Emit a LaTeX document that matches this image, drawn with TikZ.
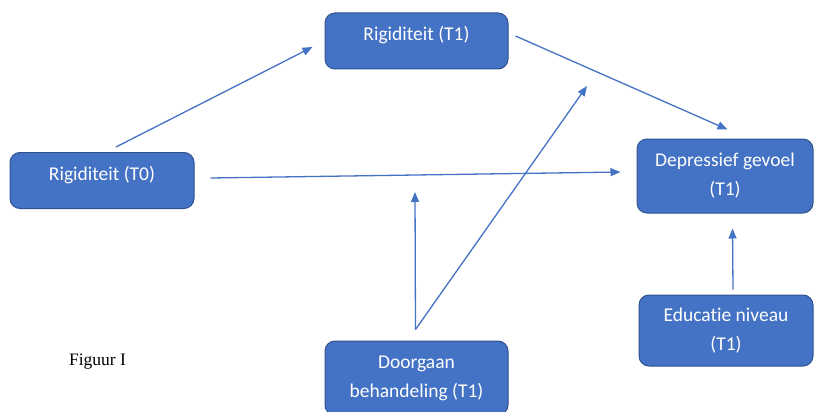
\documentclass[tikz,border=0pt]{standalone}
\usepackage{fontspec}
\setmainfont{Carlito}[Ligatures=NoCommon]
\newfontfamily\figfont{Liberation Serif}
\usetikzlibrary{arrows.meta, calc}
\definecolor{boxblue}{HTML}{4472C4}
\definecolor{boxedge}{HTML}{2F528F}

\begin{document}
\begin{tikzpicture}[
    x=1pt, y=-1pt,
    font=\fontsize{19.5}{29}\selectfont,
    var/.style={draw=boxedge, line width=1pt, fill=boxblue, rounded corners=10pt,
                text=white, align=center, inner sep=0pt,
                minimum width=#1, minimum height=56pt},
    var/.default=183pt,
    conn/.style={draw=boxblue, line width=1.3pt,
                 -{Triangle[length=10pt, width=8pt]}},
  ]
    \useasboundingbox (0,0) rectangle (814,412);
    % latent variables
    \node[var, text height=6pt, text depth=6pt] (t1) at (416.5,41) {Rigiditeit (T1)};
    \node[var=184pt, text height=6pt, text depth=6pt] (t0) at (102,180.5) {Rigiditeit (T0)};
    \node[var=176pt, minimum height=74pt] (dep) at (725,176)
      {Depressief gevoel\\(T1)};
    \node[var=174pt, minimum height=71pt] (edu) at (726,330.5)
      {Educatie niveau\\(T1)};
    \node[var, minimum height=74pt] (doorgaan) at (416.5,378)
      {Doorgaan\\behandeling (T1)};
    \node[font=\figfont\fontsize{17.5}{20}\selectfont, anchor=base] (fig) at (97.5,365) {Figuur I};

    % paths
    \draw[conn] ($(t0.north)+(14,-5)$) -- ($(t1.west)+(-12,6)$);
    \draw[conn] ($(t1.east)+(7,-5)$) -- ($(dep.north)+(2.5,-9)$);
    \draw[conn] ($(t0.east)+(16,-2.5)$) -- ($(dep.west)+(-16,-4)$);
    \draw[conn] ($(edu.north)+(7,-5)$) -- ($(dep.south)+(7.5,15)$);

    % moderation
    \coordinate (split) at ($(doorgaan.north)+(-1,-11)$);
    \coordinate (mod1) at (415,192);
    \coordinate (mod2) at (587,86);
    \draw[conn] (split) -- (mod1);
    \draw[conn] (split) -- (mod2);
  \end{tikzpicture}
\end{document}
